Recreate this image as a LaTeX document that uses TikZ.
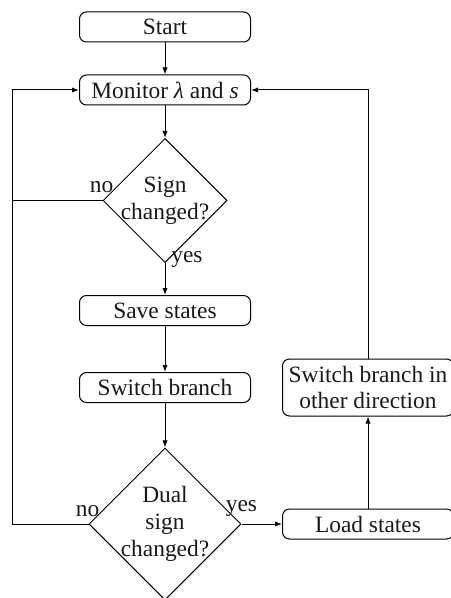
\documentclass[tikz,border=0pt]{standalone}
\usepackage{fontspec}
\setmainfont{Liberation Serif}
\usetikzlibrary{shapes.geometric,arrows.meta,calc}
\begin{document}
\begin{tikzpicture}[x=0.5pt,y=-0.5pt,
  every node/.style={font=\fontsize{11.7}{13.3}\selectfont, text=black!90},
  box/.style={draw, rounded corners=3.5pt, minimum width=85.5pt, minimum height=15pt, inner sep=0pt, align=center, line width=0.5pt},
  tallbox/.style={box, minimum height=28.5pt},
  dec/.style={draw, diamond, aspect=1, inner sep=0pt, line width=0.5pt},
  lbl/.style={inner sep=0pt},
  arr/.style={-{Latex[length=3.5pt,width=2.6pt]}, line width=0.5pt},
  ln/.style={line width=0.5pt}]
\useasboundingbox (0,0) rectangle (450,598);
\node[box] (start) at (165,27) {Start};
\node[box] (mon) at (165,90) {Monitor {\itshape λ} and {\itshape s}};
\node[dec, minimum size=62pt, label={[align=center]center:Sign\\changed?}] (d1) at (165,200.5) {};
\node[box] (save) at (165,310.5) {Save states};
\node[box] (sw) at (165,387.5) {Switch branch};
\node[dec, minimum size=76pt, label={[align=center]center:Dual\\sign\\changed?}] (d2) at (165,524) {};
\node[box] (load) at (368,524) {Load states};
\node[tallbox] (other) at (368,387.5) {Switch branch in\\other direction};
\coordinate (lt) at (12,90);
\coordinate (lb) at (12,524);
\draw[arr] (start) -- (mon);
\draw[arr] (mon) -- (d1);
\draw[arr] (d1.south) -- (save);
\draw[arr] (save) -- (sw);
\draw[arr] (sw) -- (d2);
\draw[arr] (d2.east) -- (load);
\draw[arr] (load) -- (other);
\draw[arr] (other.north) |- (mon.east);
\draw[arr] (d2.west) -- (lb) -- (lt) -- (mon.west);
\draw[ln] (d1.west) -- (d1.west -| lt);
\node[lbl] (no1) at ([shift={(-1,-13.5)}]d1.west) {no};
\node[lbl] (yes1) at ([shift={(22,-3)}]d1.south) {yes};
\node[lbl] (no2) at ([shift={(-1,-13)}]d2.west) {no};
\node[lbl] (yes2) at ([shift={(0,-15)}]d2.east) {yes};
\end{tikzpicture}
\end{document}
